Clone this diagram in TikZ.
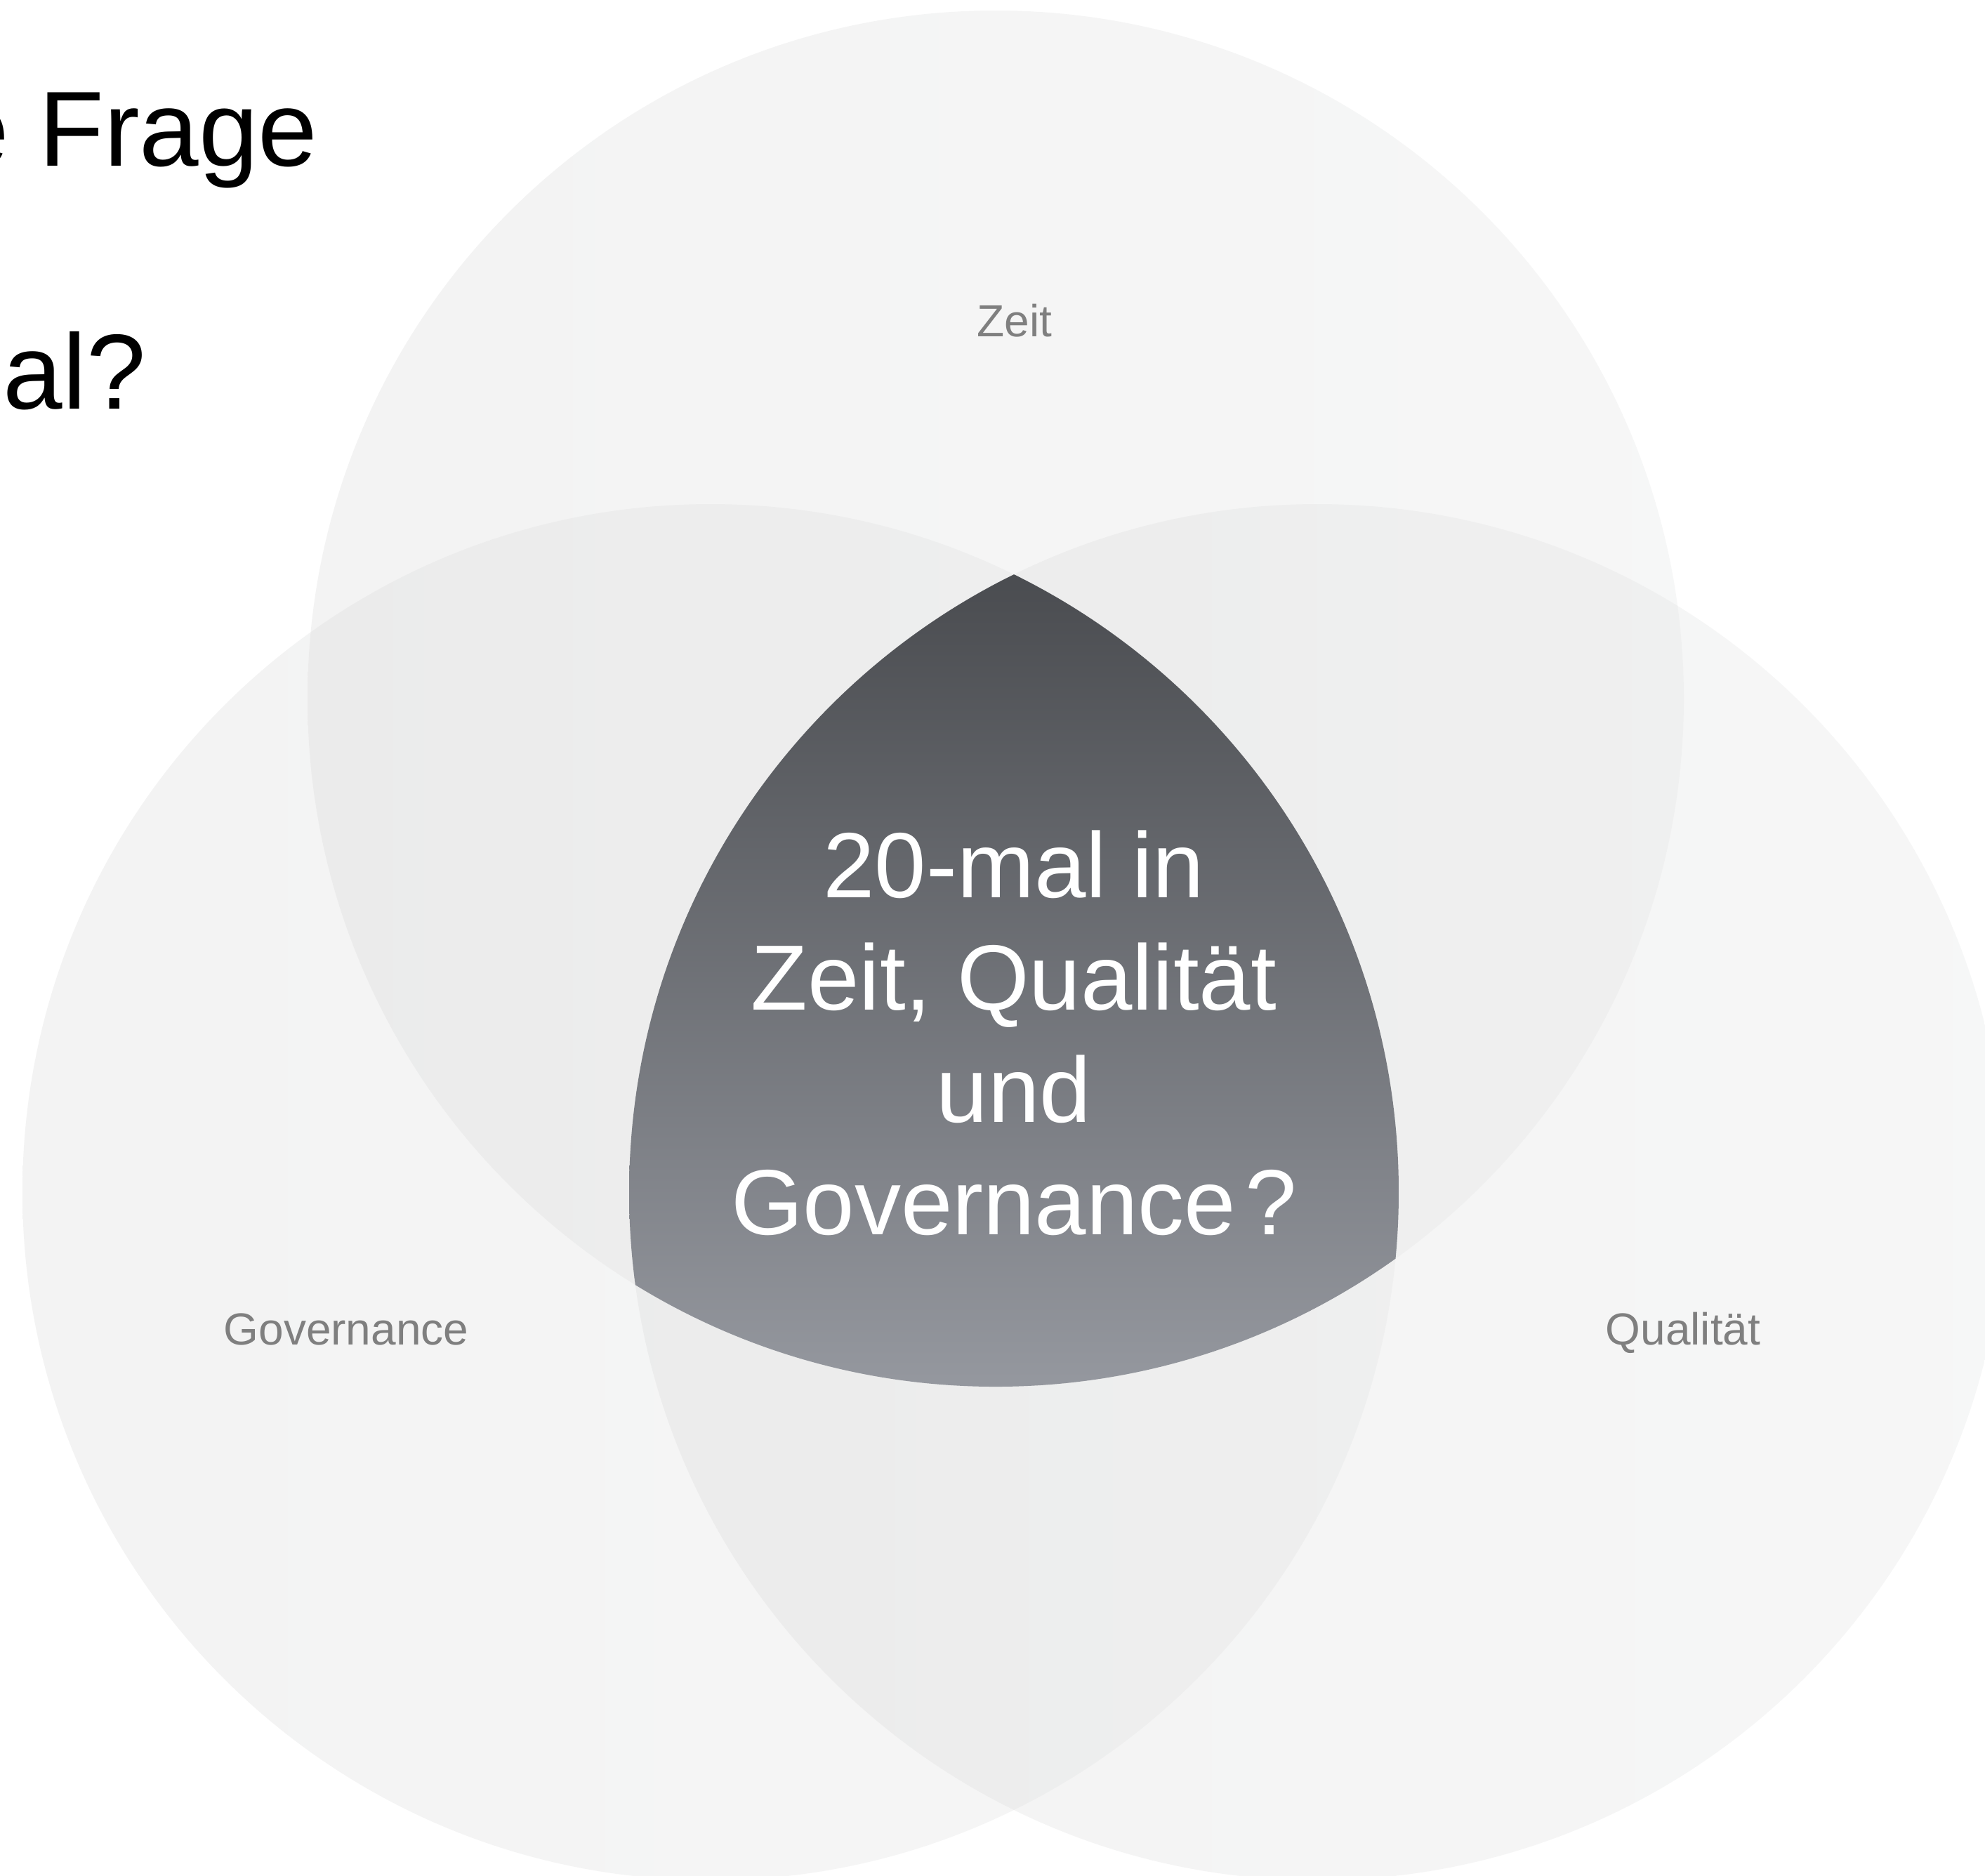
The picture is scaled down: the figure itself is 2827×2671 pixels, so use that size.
\documentclass[tikz,border=0pt]{standalone}
\usepackage{fontspec}
\setmainfont{Liberation Sans}
\definecolor{lblgray}{HTML}{7F7F7F}
\definecolor{darktop}{HTML}{4A4C50}
\definecolor{darkbot}{HTML}{95989F}
\definecolor{circL}{HTML}{D8D8D8}
\definecolor{circR}{HTML}{E4E5E5}
\tikzset{
  venncircle/.style={left color=circL, right color=circR, fill opacity=0.3, draw=none},
  lbl/.style={text=lblgray, inner sep=0pt, anchor=base, font=\fontsize{16pt}{19pt}\selectfont},
  titletext/.style={text=black, inner sep=0pt, anchor=base west, font=\fontsize{38pt}{45pt}\selectfont},
  centertext/.style={text=white, inner sep=0pt, align=center, font=\fontsize{33pt}{40pt}\selectfont}
}
\begin{document}
\begin{tikzpicture}[x=0.25pt,y=-0.25pt]
\useasboundingbox (0,0) rectangle (2827,2671);
\clip (0,0) rectangle (2827,2671);
\fill[white] (0,0) rectangle (2827,2671);
% circle centres
\coordinate (cz) at (1418,995);
\coordinate (cl) at (1012,1698);
\coordinate (cr) at (1876,1698);
% light circles
\path[venncircle] (cz) circle (245pt);
\path[venncircle] (cl) circle (245pt);
\path[venncircle] (cr) circle (245pt);
% central intersection
\begin{scope}
  \clip (cz) circle (245pt);
  \clip (cl) circle (245pt);
  \clip (cr) circle (245pt);
  \shade[top color=darktop, bottom color=darkbot] (850,818) rectangle (2050,1980);
\end{scope}
% labels
\node[lbl] (zeit) at (1445,479) {Zeit};
\node[lbl] (gov) at (493,1915) {Governance};
\node[lbl] (qual) at (2397,1915) {Qualität};
% title fragments
\node[titletext] (t1) at (-72,236) {e Frage};
\node[titletext] (t2) at (4,582) {al?};
% central question (base anchor = baseline of last line)
\node[centertext, anchor=base] (q) at (1444,1758) {20-mal in\\Zeit, Qualität\\und\\Governance\kern0.1em?};
\end{tikzpicture}
\end{document}
